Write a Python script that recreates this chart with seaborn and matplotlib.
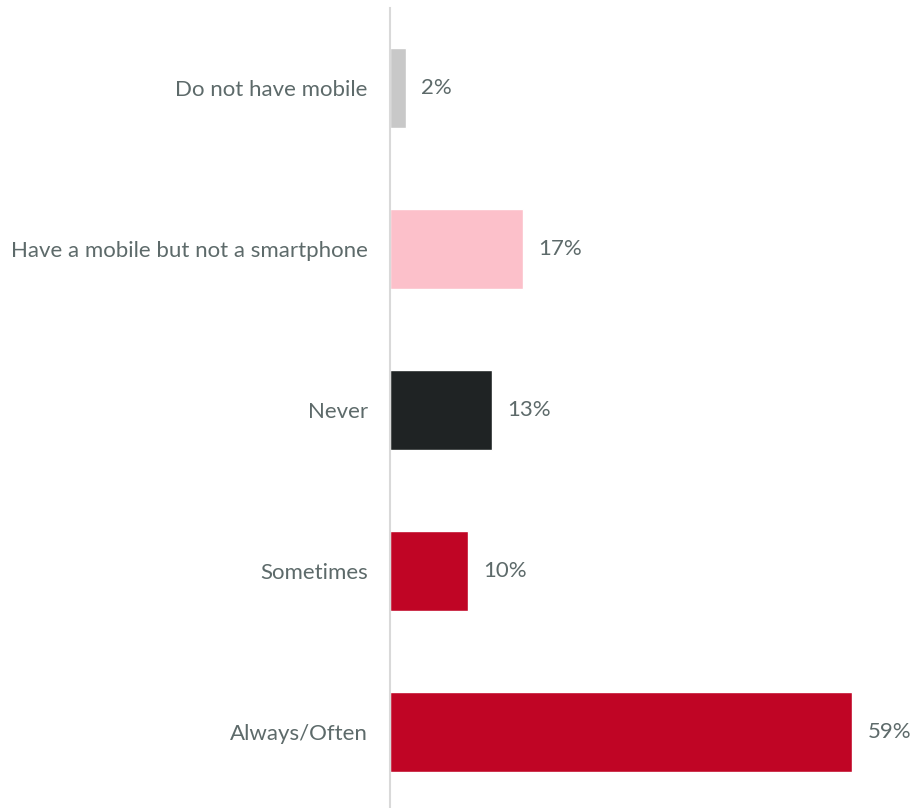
import matplotlib
matplotlib.use("Agg")
import matplotlib.pyplot as plt
import seaborn as sns
import pandas as pd

categories = ["Do not have mobile", "Have a mobile but not a smartphone",
              "Never", "Sometimes", "Always/Often"]
values = [2, 17, 13, 10, 59]
colors = ["#c8c8c8", "#fcc0ca", "#1f2324", "#c00525", "#c00525"]

sns.set_theme(style="white")
plt.rcParams["font.family"] = ["Lato", "DejaVu Sans"]
text_color = "#5d6a6a"

df = pd.DataFrame({"category": categories, "value": values})

fig = plt.figure(figsize=(9.11, 8.08), dpi=100)
ax = fig.add_axes([0.428, -0.0056, 0.559, 0.9963])

sns.barplot(data=df, x="value", y="category", hue="category",
            palette=colors, order=categories, hue_order=categories,
            width=0.5, legend=False, ax=ax, saturation=1)

ax.set_xlim(0, 65)
ax.set_ylim(4.5, -0.5)
ax.set_xlabel("")
ax.set_ylabel("")
ax.set_xticks([])
for side in ["top", "right", "bottom"]:
    ax.spines[side].set_visible(False)
ax.spines["left"].set_color("#d9d9d9")
ax.spines["left"].set_linewidth(1.5)
ax.tick_params(axis="y", length=0, pad=16, labelsize=16, labelcolor=text_color)

for i, v in enumerate(values):
    ax.annotate(f"{v}%", xy=(v, i), xytext=(11, 0), textcoords="offset points",
                va="center", ha="left", fontsize=16, color=text_color)

fig.savefig("out.png", dpi=100)
